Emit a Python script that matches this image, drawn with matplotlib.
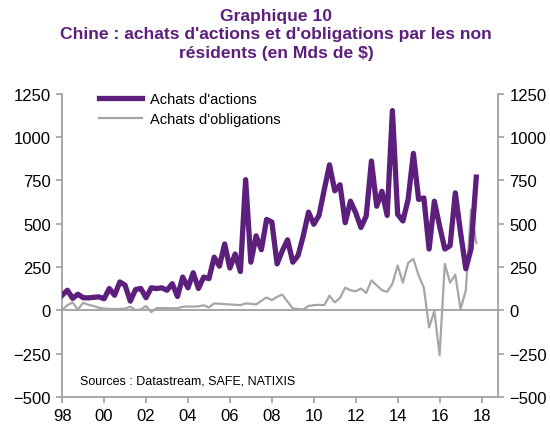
"""
Chine : achats d'actions et d'obligations par les non residents
(Graphique 10, donnees trimestrielles 1998-2017)
"""

import numpy as np
import matplotlib.pyplot as plt

plt.rcParams['font.family'] = ['Liberation Sans', 'DejaVu Sans']

# quarterly values, 1998 Q1 -> 2017 Q4 (Mds de $)
start_year = 1998
actions = [87, 116, 69, 93, 73, 72, 75, 78, 67, 126,
           87, 164, 145, 53, 120, 126, 73, 130, 126, 130,
           116, 154, 80, 192, 130, 217, 126, 192, 183, 307,
           255, 383, 244, 325, 224, 754, 278, 430, 350, 525,
           510, 268, 344, 407, 278, 316, 430, 567, 497, 548,
           697, 840, 690, 725, 506, 630, 563, 478, 544, 862,
           601, 687, 548, 1153, 554, 516, 640, 906, 640, 649,
           354, 630, 487, 354, 373, 678, 449, 240, 354, 769]
obligations = [2, 30, 46, 4, 44, 32, 25, 15, 10, 8,
               8, 8, 10, 21, 2, 5, 25, -10, 13, 13,
               13, 12, 12, 21, 22, 22, 23, 29, 17, 40,
               38, 36, 34, 32, 30, 40, 38, 34, 55, 74,
               59, 78, 91, 50, 11, 8, 6, 25, 30, 32,
               30, 84, 46, 72, 131, 116, 110, 126, 101, 173,
               144, 116, 107, 154, 259, 160, 274, 297, 202, 130,
               -99, -4, -259, 268, 160, 206, 6, 116, 582, 388]

year_ticks = list(range(1998, 2019, 2))
year_labels = ['98', '00', '02', '04', '06', '08', '10', '12', '14', '16', '18']
y_ticks = [-500, -250, 0, 250, 500, 750, 1000, 1250]

title = ("Graphique 10\nChine : achats d'actions et d'obligations par les non\n"
         "résidents (en Mds de $)")

PURPLE = '#5c1f7b'
GREY = '#a6a6a6'
AXIS = '#a0a0a0'

dates = start_year + np.arange(len(actions)) / 4.0

fig = plt.figure(figsize=(5.5, 4.27), dpi=100)
ax = fig.add_axes([0.113, 0.068, 0.793, 0.710])

ax.axhline(0, color=AXIS, lw=1.3, zorder=1)
ax.plot(dates, actions, color=PURPLE, lw=3.8, label="Achats d'actions", zorder=3)
ax.plot(dates, obligations, color=GREY, lw=1.6, label="Achats d'obligations",
        zorder=2)

ax.set_xlim(1998, 2018.8)
ax.set_ylim(-500, 1250)
ax.set_xticks(year_ticks)
ax.set_xticklabels(year_labels)
ax.set_yticks(y_ticks)

ax.spines['top'].set_visible(False)
for side in ['left', 'right', 'bottom']:
    ax.spines[side].set_color(AXIS)
    ax.spines[side].set_linewidth(1.3)

ax.tick_params(axis='both', colors=AXIS, labelcolor='black', labelsize=12,
               length=4, width=1.2)
ax.tick_params(axis='x', pad=4)
ax.tick_params(axis='y', labelright=True, right=True, pad=4)

ax.legend(loc='upper left', bbox_to_anchor=(0.055, 1.05), frameon=False,
          fontsize=10.5, handlelength=2.9, handletextpad=0.6, labelspacing=0.45)

ax.text(0.04, 0.045, 'Sources : Datastream, SAFE, NATIXIS', transform=ax.transAxes,
        fontsize=9, color='black')

fig.text(0.502, 0.98, title, ha='center', va='top', fontsize=12.6,
         fontweight='bold', color=PURPLE, linespacing=1.3)

fig.savefig('out.png', dpi=100)
